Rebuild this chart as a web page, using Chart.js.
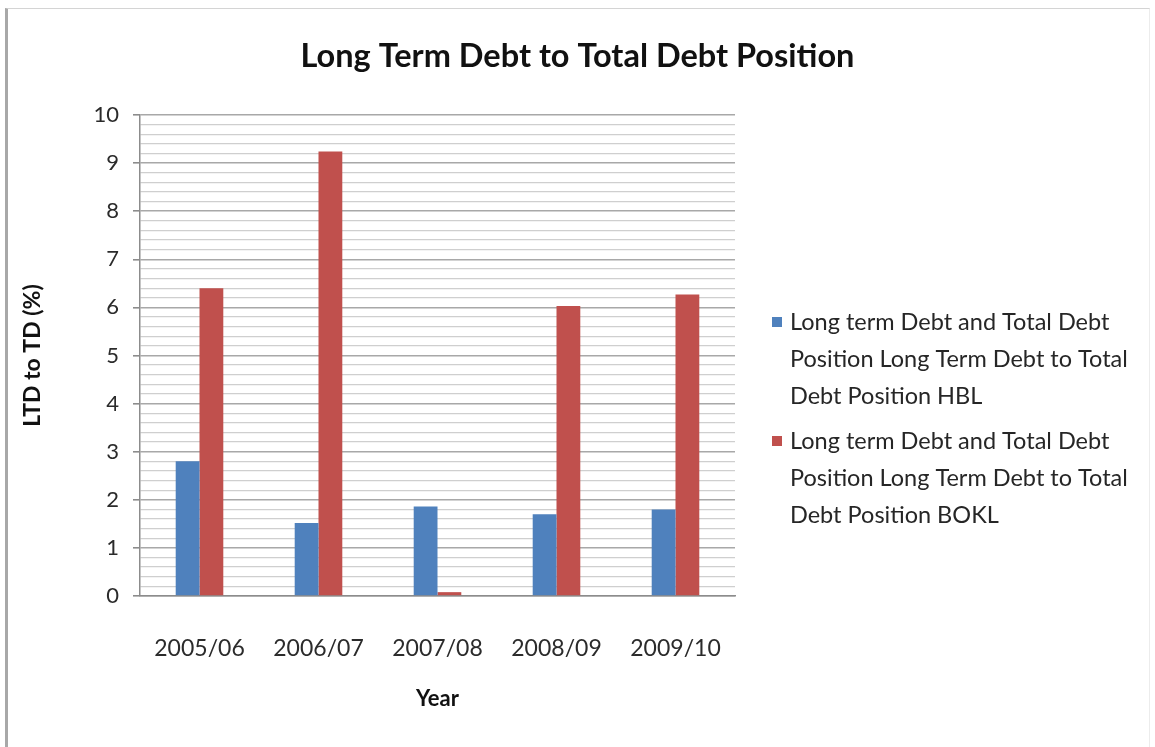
<!DOCTYPE html>
<html>
<head>
<meta charset="utf-8">
<script src="https://cdn.jsdelivr.net/npm/chart.js@4"></script>
<style>
    body { margin: 0; background: #fff; }
    #wrap { position: relative; width: 1155px; height: 747px; }
    #grafico { position: absolute; left: 0; top: 0; }
    #moldura {
        position: absolute; left: 5px; top: 8px; width: 1141px; height: 745px;
        border-left: 3px solid #a8a8a8; border-top: 1px solid #d4d4d4; border-right: 1px solid #ececec;
        pointer-events: none;
    }
</style>
</head>
<body>
<div id="wrap">
    <canvas id="grafico" width="1155" height="747"></canvas>
    <div id="moldura"></div>
</div>
<script>
/* DADOS */
const anos = ["2005/06", "2006/07", "2007/08", "2008/09", "2009/10"];
const valoresHBL = [2.8, 1.52, 1.86, 1.7, 1.8];
const valoresBOKL = [6.4, 9.24, 0.08, 6.03, 6.27];
const rotuloHBL = "Long term Debt and Total Debt Position Long Term Debt to Total Debt Position HBL";
const rotuloBOKL = "Long term Debt and Total Debt Position Long Term Debt to Total Debt Position BOKL";

const fonte = "Lato, 'Open Sans', sans-serif";
const ehInteiro = v => Math.abs(v - Math.round(v)) < 1e-6;

/* LEGENDA COM QUEBRA DE LINHA */
const legendaLateral = {
    id: "legendaLateral",
    afterDraw(chart) {
        const ctx = chart.ctx;
        const x = chart.chartArea.right + 55;
        let y = 322;
        ctx.save();
        ctx.font = "23.5px " + fonte;
        ctx.textBaseline = "middle";
        chart.data.datasets.forEach(ds => {
            const palavras = ds.label.split(" ");
            const linhas = [];
            let atual = "";
            palavras.forEach(p => {
                const teste = atual ? atual + " " + p : p;
                if (ctx.measureText(teste).width > 350 && atual) {
                    linhas.push(atual);
                    atual = p;
                } else {
                    atual = teste;
                }
            });
            linhas.push(atual);
            ctx.fillStyle = ds.backgroundColor;
            ctx.fillRect(x - 18, y - 5, 10, 10);
            ctx.fillStyle = "#262626";
            linhas.forEach((l, i) => ctx.fillText(l, x, y + i * 37));
            y += linhas.length * 37 + 8;
        });
        ctx.restore();
    }
};

new Chart(document.getElementById("grafico"), {
    type: "bar",
    data: {
        labels: anos,
        datasets: [
            { label: rotuloHBL, data: valoresHBL, backgroundColor: "#4f81bd", categoryPercentage: 0.4, barPercentage: 1.0 },
            { label: rotuloBOKL, data: valoresBOKL, backgroundColor: "#c0504d", categoryPercentage: 0.4, barPercentage: 1.0 }
        ]
    },
    options: {
        responsive: false,
        animation: false,
        layout: { padding: 0 },
        plugins: {
            legend: { display: false },
            tooltip: { enabled: false },
            title: {
                display: true,
                text: "Long Term Debt to Total Debt Position",
                color: "#111",
                font: { family: fonte, size: 32.5, weight: "bold" },
                padding: { top: 37, bottom: 39 }
            }
        },
        scales: {
            x: {
                grid: { display: false },
                border: { display: true, color: "#8c8c8c", width: 1.5 },
                ticks: { color: "#2b2b2b", font: { family: fonte, size: 23 }, padding: 31, maxRotation: 0 },
                title: {
                    display: true, text: "Year", color: "#111",
                    font: { family: fonte, size: 22, weight: "bold" },
                    padding: { top: 0, bottom: 35 }
                },
                afterFit: s => { s.height = 151; }
            },
            y: {
                min: 0,
                max: 10,
                border: { display: true, color: "#8c8c8c", width: 1.5 },
                grid: {
                    color: c => ehInteiro(c.tick.value) ? "#a8a8a8" : "#cfcfcf",
                    lineWidth: c => ehInteiro(c.tick.value) ? 1.6 : 1.3,
                    tickColor: c => ehInteiro(c.tick.value) ? "#8c8c8c" : "rgba(0,0,0,0)",
                    tickLength: 7
                },
                ticks: {
                    stepSize: 0.2,
                    autoSkip: false,
                    padding: 14,
                    color: "#2b2b2b",
                    font: { family: fonte, size: 22 },
                    callback: v => ehInteiro(v) ? String(Math.round(v)) : ""
                },
                title: {
                    display: true, text: "LTD to TD (%)", color: "#111",
                    font: { family: fonte, size: 23, weight: "bold" },
                    padding: { top: 19, bottom: 0 }
                },
                afterFit: s => { s.width = 140; }
            },
            espaco: {
                position: "right",
                display: true,
                grid: { display: false },
                border: { display: false },
                ticks: { display: false },
                afterFit: s => { s.width = 420; }
            }
        }
    },
    plugins: [legendaLateral]
});
</script>
</body>
</html>
